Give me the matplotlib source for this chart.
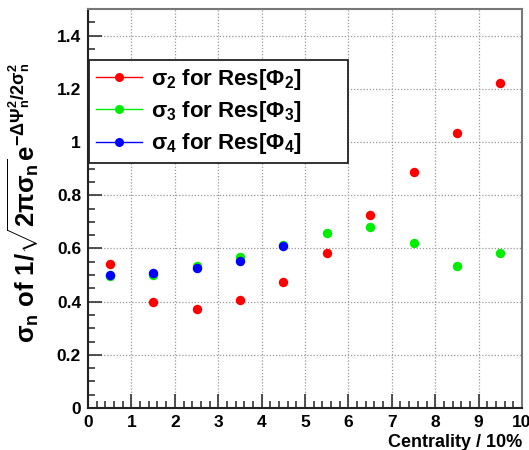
import matplotlib
matplotlib.use('Agg')
import matplotlib.pyplot as plt
from matplotlib.ticker import MultipleLocator, FuncFormatter

plt.rcParams['font.family'] = ['Liberation Sans', 'DejaVu Sans']
plt.rcParams['font.weight'] = 'bold'
plt.rcParams['mathtext.fontset'] = 'custom'
plt.rcParams['mathtext.rm'] = 'Liberation Sans:bold'
plt.rcParams['mathtext.it'] = 'Liberation Sans:bold'
plt.rcParams['mathtext.bf'] = 'Liberation Sans:bold'

# centrality bins (bin centres, in units of 10%)
cent = [0.5, 1.5, 2.5, 3.5, 4.5, 5.5, 6.5, 7.5, 8.5, 9.5]
sig2 = [0.540, 0.400, 0.373, 0.405, 0.473, 0.582, 0.725, 0.887, 1.034, 1.222]
sig3 = [0.496, 0.499, 0.533, 0.567, 0.613, 0.658, 0.682, 0.619, 0.535, 0.582]
cent4 = [0.5, 1.5, 2.5, 3.5, 4.5]
sig4 = [0.500, 0.509, 0.525, 0.551, 0.610]

labels = [r'$\sigma_{2}$ for Res[$\Phi_{2}$]',
          r'$\sigma_{3}$ for Res[$\Phi_{3}$]',
          r'$\sigma_{4}$ for Res[$\Phi_{4}$]']
colors = ['#ff0000', '#00ee00', '#0000ff']

fig = plt.figure(figsize=(5.29, 4.5), dpi=100)
ax = fig.add_axes([0.1664, 0.0933, 0.8204, 0.8867])

ms = 6.8
ax.plot(cent, sig2, 'o', color=colors[0], ms=ms, mec='none')
ax.plot(cent, sig3, 'o', color=colors[1], ms=ms, mec='none')
ax.plot(cent4, sig4, 'o', color=colors[2], ms=ms, mec='none')

# legend entries: a thin line through the marker
leg_handles = []
for c in colors:
    ln, = ax.plot([], [], '-o', color=c, ms=6.5, lw=1, mec='none')
    leg_handles.append(ln)

ax.set_xlim(0, 10)
ax.set_ylim(0, 1.5)
ax.xaxis.set_major_locator(MultipleLocator(1))
ax.xaxis.set_minor_locator(MultipleLocator(0.2))
ax.yaxis.set_major_locator(MultipleLocator(0.2))
ax.yaxis.set_minor_locator(MultipleLocator(0.05))
fmt = FuncFormatter(lambda v, p: f'{v:g}')
ax.xaxis.set_major_formatter(fmt)
ax.yaxis.set_major_formatter(fmt)
ax.tick_params(which='both', direction='in', top=False, right=False,
               labelsize=12.5, width=1.2, color='#333333')
ax.tick_params(which='major', length=10, pad=5)
ax.tick_params(which='minor', length=5)

ax.grid(True, which='major', color='#999999', linestyle=(0, (1, 1.5)), lw=0.9)
for side in ('left', 'bottom'):
    ax.spines[side].set_color('#222222')
    ax.spines[side].set_linewidth(1.5)
for side in ('top', 'right'):
    ax.spines[side].set_color('#777777')
    ax.spines[side].set_linewidth(1.5)

ax.set_xlabel('Centrality / 10%', fontsize=13, fontweight='bold', loc='right', labelpad=3)
ax.set_ylabel(r'$\sigma_{n}$ of 1/$\sqrt{2\pi\sigma_{n}}$e$^{-\Delta\Psi_{n}^{2}/2\sigma_{n}^{2}}$',
              fontsize=18.5, fontweight='bold')
ax.yaxis.set_label_coords(-0.106, 0.515)

leg = ax.legend(leg_handles, labels, loc='upper left',
                bbox_to_anchor=(0.002, 0.627, 0.597, 0.245), mode='expand',
                fontsize=16, frameon=True, fancybox=False, framealpha=1,
                edgecolor='#222222', handlelength=2.1, handletextpad=0.4,
                labelspacing=0.33, borderpad=0.3, borderaxespad=0)
leg.get_frame().set_linewidth(1.3)

fig.savefig('out.png', dpi=100)
